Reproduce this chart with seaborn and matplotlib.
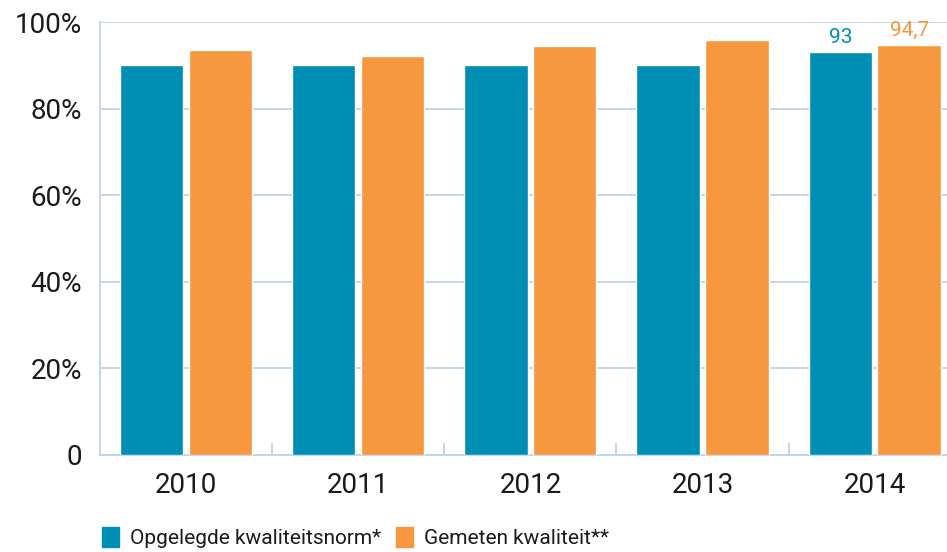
import matplotlib.pyplot as plt
import seaborn as sns
import pandas as pd

# Données
years = ['2010', '2011', '2012', '2013', '2014']
norm = [90, 90, 90, 90, 93]
measured = [93.5, 92.1, 94.5, 95.8, 94.7]
series = ['Opgelegde kwaliteitsnorm*', 'Gemeten kwaliteit**']
value_labels = {4: ('93', '94,7')}

TEAL = '#008fb4'
ORANGE = '#f7973f'
LINE = '#b9d0ea'

sns.set_theme(style='white')
plt.rcParams['font.family'] = ['Roboto', 'DejaVu Sans']

df = pd.DataFrame({
    'year': years * 2,
    'value': norm + measured,
    'serie': [series[0]] * len(years) + [series[1]] * len(years),
})

fig = plt.figure(figsize=(9.47, 5.52), dpi=100)
ax = fig.add_axes([0.1056, 0.176, 0.8944, 0.784])

sns.barplot(data=df, x='year', y='value', hue='serie', palette=[TEAL, ORANGE],
            width=0.8, gap=0.08, saturation=1, legend=False, ax=ax, zorder=3)

ax.set_xlim(-0.5, 4.42)
ax.set_ylim(0, 100)
ax.set_yticks([0, 20, 40, 60, 80, 100])
ax.set_yticklabels(['0', '20%', '40%', '60%', '80%', '100%'])
ax.set_xlabel('')
ax.set_ylabel('')

ax.yaxis.grid(True, color=LINE, lw=1.2, zorder=0)
ax.xaxis.grid(False)
for side in ['top', 'right']:
    ax.spines[side].set_visible(False)
for side in ['left', 'bottom']:
    ax.spines[side].set_color(LINE)
    ax.spines[side].set_linewidth(1.2)

ax.tick_params(axis='y', length=0, labelsize=20, colors='#1a1a1a', pad=13)
ax.tick_params(axis='x', length=0, labelsize=20, colors='#1a1a1a', pad=12)
ax.set_xticks([0.5, 1.5, 2.5, 3.5], minor=True)
ax.tick_params(axis='x', which='minor', direction='in', length=9, width=1.2, color=LINE, bottom=True)

# Valeurs 2014
i = 4
ax.text(i - 0.2, norm[i] + 1.2, value_labels[i][0], ha='center', va='bottom', color=TEAL, fontsize=15)
ax.text(i + 0.2, measured[i] + 1.2, value_labels[i][1], ha='center', va='bottom', color=ORANGE, fontsize=15)

# Légende
handles = [plt.Rectangle((0, 0), 1, 1, color=c) for c in [TEAL, ORANGE]]
fig.legend(handles, series, loc='lower left', bbox_to_anchor=(0.088, -0.027), ncol=2,
           frameon=False, fontsize=15, handlelength=0.8, handleheight=1.15,
           handletextpad=0.55, columnspacing=0.7, labelcolor='#1a1a1a')

fig.savefig('out.png', dpi=100)
